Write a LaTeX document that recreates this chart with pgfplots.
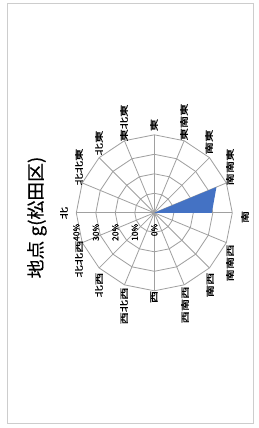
\documentclass[border=0pt]{standalone}
\usepackage{fontspec}
\setmainfont{Noto Sans CJK JP}
\newfontfamily\lblfont{Noto Sans CJK JP}[FakeBold=0.6]
\newfontfamily\ttlfont{Noto Sans CJK JP}[FakeBold=0.4]
\usepackage{pgfplots}
\pgfplotsset{compat=1.18}
\usepgfplotslibrary{polar}
\definecolor{fillblue}{RGB}{68,114,196}
\definecolor{gridgray}{RGB}{160,160,160}
\definecolor{framegray}{RGB}{205,205,205}
\begin{document}
\begin{tikzpicture}[x=1bp,y=1bp]
\fill[white] (0,0) rectangle (259,428);
\draw[framegray, line width=0.9bp] (7,5) rectangle (253,425);
\begin{axis}[at={(154.3bp,215.2bp)}, anchor=center, hide axis,
  x=1.95bp, y=1.95bp, xmin=-42, xmax=42, ymin=-42, ymax=42, clip=false]
% spokes
\pgfplotsinvokeforeach{0,22.5,45,67.5,90,112.5,135,157.5,180,202.5,225,247.5,270,292.5,315,337.5}{
  \addplot[gridgray, line width=0.8bp, data cs=polar] coordinates {(#1,0) (#1,40)};
}
% rings
\pgfplotsinvokeforeach{10,20,30,40}{
  \addplot[gridgray, line width=0.8bp, data cs=polar] coordinates {(0,#1) (22.5,#1) (45,#1) (67.5,#1) (90,#1) (112.5,#1) (135,#1) (157.5,#1) (180,#1) (202.5,#1) (225,#1) (247.5,#1) (270,#1) (292.5,#1) (315,#1) (337.5,#1) (360,#1)};
}
% data: angle = 180 - bearing
\addplot[fill=fillblue, draw=none, data cs=polar] coordinates {
(180,0) (157.5,0) (135,0) (112.5,0) (90,0) (67.5,0) (45,0) (22.5,34.5)
(0,29.5) (-22.5,0) (-45,0) (-67.5,0) (-90,0) (-112.5,0) (-135,0) (-157.5,0)} -- cycle;
% radial labels
\pgfplotsinvokeforeach{0,10,20,30,40}{
  \node[rotate=90, anchor=east, font=\lblfont\fontsize{8.5}{9}\selectfont, inner sep=0pt] at (axis cs:-#1,-5.5) {#1\%};
}
\end{axis}
\node[rotate=90, xscale=1.05, font=\ttlfont\fontsize{18}{20}\selectfont] at (37,210.5) {地点 g(松田区)};
\begin{scope}[every node/.style={rotate=90, xscale=1.45, font=\lblfont\fontsize{8.5}{10}\selectfont, inner sep=0pt}]
\node at (64,215) {北};
\node at (79,261) {北北東};
\node at (99,285) {北東};
\node at (124,305) {東北東};
\node at (154,303) {東};
\node at (184,306) {東南東};
\node at (209,286) {南東};
\node at (230,261) {南南東};
\node at (245,211) {南};
\node at (230,165) {南南西};
\node at (210,143) {南西};
\node at (185,123) {西南西};
\node at (154,131) {西};
\node at (124,122) {西北西};
\node at (99,143) {北西};
\node at (79,169) {北北西};
\end{scope}
\end{tikzpicture}
\end{document}
